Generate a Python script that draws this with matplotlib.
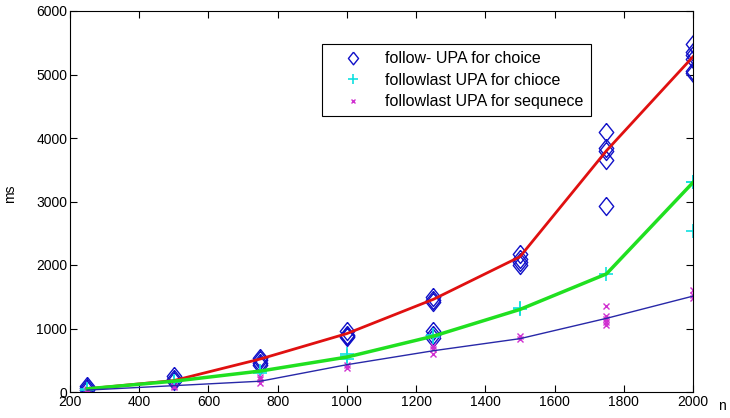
import numpy as np
import matplotlib.pyplot as plt

plt.rcParams['font.family'] = ['Liberation Sans', 'DejaVu Sans']
plt.rcParams['font.size'] = 10

# mean curves
n_vals = [250, 500, 750, 1000, 1250, 1500, 1750, 2000]
follow_mean = [50, 180, 520, 920, 1460, 2130, 3800, 5280]
last_choice_mean = [50, 170, 330, 550, 880, 1300, 1860, 3300]
last_seq_mean = [30, 100, 170, 430, 650, 840, 1160, 1510]

# raw measurements
follow_x = [250, 250, 250, 500, 500, 500, 750, 750, 750, 750,
            1000, 1000, 1000, 1000, 1250, 1250, 1250, 1250, 1250, 1250,
            1500, 1500, 1500, 1500, 1750, 1750, 1750, 1750, 1750,
            2000, 2000, 2000, 2000, 2000, 2000]
follow_y = [100, 60, 30, 250, 200, 180, 540, 500, 460, 420,
            960, 900, 880, 860, 1500, 1450, 1420, 960, 900, 850,
            2170, 2100, 2050, 2000, 4100, 3850, 3800, 3650, 2930,
            5480, 5350, 5300, 5250, 5050, 5020]

choice_x = [250, 250, 500, 500, 750, 750, 1000, 1000, 1000, 1250, 1250,
            1500, 1500, 1750, 2000, 2000, 2000]
choice_y = [30, 50, 150, 170, 330, 300, 600, 560, 520, 900, 870,
            1300, 1330, 1860, 3300, 3310, 2530]

seq_x = [250, 250, 500, 500, 750, 750, 750, 1000, 1000, 1250, 1250, 1250,
         1500, 1500, 1750, 1750, 1750, 1750, 1750, 2000, 2000, 2000]
seq_y = [20, 40, 80, 100, 140, 200, 240, 380, 420, 600, 680, 720,
         830, 880, 1050, 1100, 1150, 1200, 1350, 1480, 1530, 1600]

# matlab style diamond (a bit narrower than tall)
diamond = [(0, 1), (0.8, 0), (0, -1), (-0.8, 0), (0, 1)]

fig = plt.figure(figsize=(7.3, 4.18), dpi=100)
ax = fig.add_axes([70 / 730, 26 / 418, 623 / 730, 381 / 418])

ax.plot(follow_x, follow_y, marker=diamond, ls='none', mfc='none', mec='#1010c8',
        ms=13, mew=1.0, label='follow- UPA for choice')
ax.plot(choice_x, choice_y, '+', color='#10e0e0', ms=10, mew=1.2,
        label='followlast UPA for chioce')
ax.plot(seq_x, seq_y, 'x', color='#d030d0', ms=5, mew=1.0,
        label='followlast UPA for sequnece')

ax.plot(n_vals, follow_mean, color='#e01010', lw=2)
ax.plot(n_vals, last_choice_mean, color='#20e020', lw=2.5)
ax.plot(n_vals, last_seq_mean, color='#2828a8', lw=1)

ax.set_xlim(200, 2000)
ax.set_ylim(0, 6000)
ax.set_xticks(np.arange(200, 2001, 200))
ax.set_yticks(np.arange(0, 6001, 1000))
ax.tick_params(direction='in', top=True, right=True, length=5, labelsize=10,
               pad=2)

ax.set_ylabel('ms', fontsize=10)
ax.yaxis.set_label_coords(-0.085, 0.52)
fig.text(722 / 730, 1 - 406 / 418, 'n', fontsize=10, va='center', ha='center')

leg = ax.legend(loc='upper left', bbox_to_anchor=(0.4045, 0.913), fontsize=11.5,
                frameon=True, fancybox=False, edgecolor='black', framealpha=1,
                borderpad=0.45, handletextpad=0.5, labelspacing=0.4,
                borderaxespad=0, handlelength=3.0, markerscale=0.7)
leg.get_frame().set_linewidth(0.8)

fig.savefig('out.png', dpi=100)
